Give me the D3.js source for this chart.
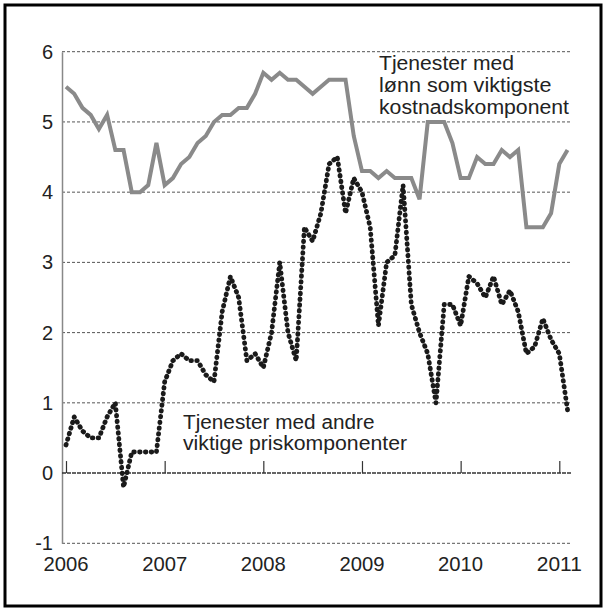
<!DOCTYPE html>
<html>
<head>
<meta charset="utf-8">
<script src="https://cdn.jsdelivr.net/npm/d3@7"></script>
<style>
  body { margin: 0; background: #fff; }
  text { font-family: "Liberation Sans", Arial, sans-serif; fill: #222; }
</style>
</head>
<body>
<div id="vis-container"></div>
<script>
//width and height
var w = 606;
var h = 612;

// monthly values, jan 2006 - feb 2011
var startYear = 2006;
var years = [2006, 2007, 2008, 2009, 2010, 2011];
var yTicks = [-1, 0, 1, 2, 3, 4, 5, 6];

// Tjenester med lønn som viktigste kostnadskomponent
var lonn = [5.5, 5.4, 5.2, 5.1, 4.9, 5.1, 4.6, 4.6, 4.0, 4.0, 4.1, 4.7,
            4.1, 4.2, 4.4, 4.5, 4.7, 4.8, 5.0, 5.1, 5.1, 5.2, 5.2, 5.4,
            5.7, 5.6, 5.7, 5.6, 5.6, 5.5, 5.4, 5.5, 5.6, 5.6, 5.6, 4.8,
            4.3, 4.3, 4.2, 4.3, 4.2, 4.2, 4.2, 3.9, 5.0, 5.0, 5.0, 4.7,
            4.2, 4.2, 4.5, 4.4, 4.4, 4.6, 4.5, 4.6, 3.5, 3.5, 3.5, 3.7,
            4.4, 4.6];

// Tjenester med andre viktige priskomponenter
var andre = [0.4, 0.8, 0.6, 0.5, 0.5, 0.8, 1.0, -0.2, 0.3, 0.3, 0.3, 0.3,
             1.3, 1.6, 1.7, 1.6, 1.6, 1.4, 1.3, 2.3, 2.8, 2.5, 1.6, 1.7,
             1.5, 2.0, 3.0, 2.0, 1.6, 3.5, 3.3, 3.7, 4.4, 4.5, 3.7, 4.2,
             4.0, 3.5, 2.1, 3.0, 3.1, 4.1, 2.4, 2.0, 1.7, 1.0, 2.4, 2.4,
             2.1, 2.8, 2.7, 2.5, 2.8, 2.4, 2.6, 2.3, 1.7, 1.8, 2.2, 1.9,
             1.7, 0.9];

var labelLonn = ["Tjenester med", "lønn som viktigste", "kostnadskomponent"];
var labelAndre = ["Tjenester med andre", "viktige priskomponenter"];

//scale function
var xScale = d3.scaleLinear()
    .domain([2006, 2011])
    .range([66, 559.3]);

var yScale = d3.scaleLinear()
    .domain([-1, 6])
    .range([543.3, 51.7]);

var plotLeft = 62;
var plotRight = 572;

var svg = d3.select("#vis-container")
    .append("svg")
    .attr("width", w)
    .attr("height", h);

// frame
svg.append("rect")
    .attr("x", 5)
    .attr("y", 5)
    .attr("width", 596)
    .attr("height", 601)
    .attr("fill", "none")
    .attr("stroke", "#000")
    .attr("stroke-width", 3);

// grid lines
svg.selectAll(".grid")
    .data(yTicks.filter(function (d) { return d != 0; }))
    .enter()
    .append("line")
    .attr("class", "grid")
    .attr("x1", plotLeft)
    .attr("x2", plotRight)
    .attr("y1", function (d) { return yScale(d); })
    .attr("y2", function (d) { return yScale(d); })
    .attr("stroke", "#555")
    .attr("stroke-width", 1)
    .attr("stroke-dasharray", "3,2");

// y axis
var yAxis = d3.axisLeft(yScale)
    .tickValues(yTicks)
    .tickSize(0)
    .tickPadding(9)
    .tickFormat(function (d) { return d < 0 ? "-" + Math.abs(d) : String(d); });
svg.append("g")
    .attr("class", "y axis")
    .attr("transform", "translate(" + plotLeft + ",0)")
    .call(yAxis)
    .call(function (g) {
        g.select(".domain").attr("stroke", "#888").attr("stroke-width", 1.5);
        g.selectAll("text").attr("font-size", 20).attr("fill", "#222")
            .style("font-family", "Liberation Sans, Arial, sans-serif");
    });

// zero line with year ticks
var xAxis = d3.axisTop(xScale).tickValues(years).tickSize(12).tickFormat("");
svg.append("g")
    .attr("class", "x axis")
    .attr("transform", "translate(0," + yScale(0) + ")")
    .call(xAxis)
    .call(function (g) {
        g.select(".domain").remove();
        g.selectAll("line").attr("stroke", "#333").attr("stroke-width", 1.2);
    });

svg.append("line")
    .attr("x1", plotLeft)
    .attr("x2", plotRight)
    .attr("y1", yScale(0))
    .attr("y2", yScale(0))
    .attr("stroke", "#333")
    .attr("stroke-width", 1.5)
    .attr("stroke-dasharray", "4,1");

// year labels below the plot
svg.selectAll(".year")
    .data(years)
    .enter()
    .append("text")
    .attr("class", "year")
    .attr("x", function (d) { return xScale(d); })
    .attr("y", 571)
    .attr("text-anchor", "middle")
    .attr("font-size", 20)
    .attr("textLength", 45)
    .attr("lengthAdjust", "spacingAndGlyphs")
    .text(function (d) { return d; });

var line = d3.line()
    .x(function (d, i) { return xScale(startYear + i / 12); })
    .y(function (d) { return yScale(d); });

// gray solid line
svg.append("path")
    .datum(lonn)
    .attr("d", line)
    .attr("fill", "none")
    .attr("stroke", "#8a8a8a")
    .attr("stroke-width", 4)
    .attr("stroke-linejoin", "miter");

// black dotted line
svg.append("path")
    .datum(andre)
    .attr("d", line)
    .attr("fill", "none")
    .attr("stroke", "#1a1a1a")
    .attr("stroke-width", 4.8)
    .attr("stroke-linecap", "round")
    .attr("stroke-linejoin", "round")
    .attr("stroke-dasharray", "0.6,5.2");

// labels
var lonnWidths = [135, 172.5, 190];
svg.selectAll(".lab1")
    .data(labelLonn)
    .enter()
    .append("text")
    .attr("class", "lab1")
    .attr("x", 379)
    .attr("y", function (d, i) { return 69.5 + i * 22; })
    .attr("font-size", 19.5)
    .attr("textLength", function (d, i) { return lonnWidths[i]; })
    .attr("lengthAdjust", "spacingAndGlyphs")
    .text(function (d) { return d; });

var andreWidths = [191.5, 224];
svg.selectAll(".lab2")
    .data(labelAndre)
    .enter()
    .append("text")
    .attr("class", "lab2")
    .attr("x", 183)
    .attr("y", function (d, i) { return 428.5 + i * 21.7; })
    .attr("font-size", 19.5)
    .attr("textLength", function (d, i) { return andreWidths[i]; })
    .attr("lengthAdjust", "spacingAndGlyphs")
    .text(function (d) { return d; });
</script>
</body>
</html>
